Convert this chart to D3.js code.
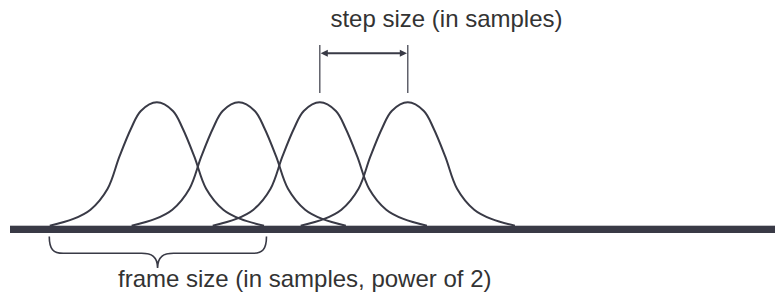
<!DOCTYPE html>
<html>
<head>
<meta charset="utf-8">
<script src="https://cdn.jsdelivr.net/npm/d3@7"></script>
<style>
  html, body { margin: 0; padding: 0; background: #ffffff; }
  svg { display: block; }
</style>
</head>
<body>
<svg id="chart" width="775" height="296"></svg>
<script>
// ---- data ----
// window centres along the sample axis (axis units 0..1000)
const windowCenters = [192, 299, 405, 520];
// frame size in axis units
const frameSize = [280];
// window shape: relative position within frame (-0.5..0.5) and relative height
const shapePos    = [-0.5, -0.39, -0.31, -0.23, -0.175, -0.12, -0.075, 0, 0.075, 0.12, 0.175, 0.23, 0.31, 0.39, 0.5];
const shapeHeight = [0, 0.055, 0.13, 0.30, 0.56, 0.79, 0.93, 1, 0.93, 0.79, 0.56, 0.30, 0.13, 0.055, 0];
// labels
const labels = ["step size (in samples)", "frame size (in samples, power of 2)"];
// which windows the step arrow spans
const stepPair = [2, 3];

// ---- drawing ----
const svg = d3.select("#chart");
const ink = "#393a46";
const textInk = "#333333";

const x = d3.scaleLinear().domain([0, 1000]).range([10, 775]);
const y = d3.scaleLinear().domain([0, 1]).range([225.7, 102.3]);

const fs = frameSize[0];
const shape = shapePos.map((p, i) => ({ p, h: shapeHeight[i] }));

const line = d3.line()
  .x(d => d.x)
  .y(d => y(d.h))
  .curve(d3.curveCatmullRom.alpha(0.5));

// window curves
svg.append("g").selectAll("path")
  .data(windowCenters)
  .join("path")
  .attr("d", c => line(shape.map(s => ({ x: x(c + s.p * fs), h: s.h }))))
  .attr("fill", "none")
  .attr("stroke", ink)
  .attr("stroke-width", 2);

// baseline bar (sample axis)
svg.append("rect")
  .attr("x", x(0))
  .attr("y", 225.7)
  .attr("width", x(1000) - x(0))
  .attr("height", 7.3)
  .attr("fill", ink);

// step-size arrow
const a0 = x(windowCenters[stepPair[0]]);
const a1 = x(windowCenters[stepPair[1]]);
const gA = svg.append("g");
gA.selectAll("line.v")
  .data([a0, a1])
  .join("line")
  .attr("x1", d => d).attr("x2", d => d)
  .attr("y1", 45).attr("y2", 93)
  .attr("stroke", ink).attr("stroke-width", 1.2);
gA.append("line")
  .attr("x1", a0 + 4).attr("x2", a1 - 4)
  .attr("y1", 53.3).attr("y2", 53.3)
  .attr("stroke", ink).attr("stroke-width", 2);
gA.append("path")
  .attr("d", `M${a0 + 0.8},53.3 L${a0 + 8},49.8 L${a0 + 8},56.8 Z`)
  .attr("fill", ink);
gA.append("path")
  .attr("d", `M${a1 - 0.8},53.3 L${a1 - 8},49.8 L${a1 - 8},56.8 Z`)
  .attr("fill", ink);

// frame-size brace
const bL = x(windowCenters[0] - fs / 2) - 0.5;
const bR = x(windowCenters[0] + fs / 2) + 2.5;
const bM = x(windowCenters[0]) + 0.7;
const yTop = 236.5, yMid = 253.3, yTip = 268;
const r = 14;
svg.append("path")
  .attr("d",
    `M${bL},${yTop} C${bL},${yMid - 4} ${bL + 4},${yMid} ${bL + r},${yMid}` +
    ` L${bM - 16},${yMid} C${bM - 6},${yMid} ${bM},${yMid + 3} ${bM},${yTip}` +
    ` C${bM},${yMid + 3} ${bM + 6},${yMid} ${bM + 16},${yMid}` +
    ` L${bR - r},${yMid} C${bR - 4},${yMid} ${bR},${yMid - 4} ${bR},${yTop}`)
  .attr("fill", "none")
  .attr("stroke", ink)
  .attr("stroke-width", 1.6);

// labels
svg.append("text")
  .attr("x", 446.5).attr("y", 26.5)
  .attr("text-anchor", "middle")
  .attr("font-family", "'Liberation Sans', Arial, sans-serif")
  .attr("font-size", 24)
  .attr("fill", textInk)
  .text(labels[0]);

svg.append("text")
  .attr("x", 118).attr("y", 286.7)
  .attr("text-anchor", "start")
  .attr("font-family", "'Liberation Sans', Arial, sans-serif")
  .attr("font-size", 24)
  .attr("fill", textInk)
  .text(labels[1]);
</script>
</body>
</html>
